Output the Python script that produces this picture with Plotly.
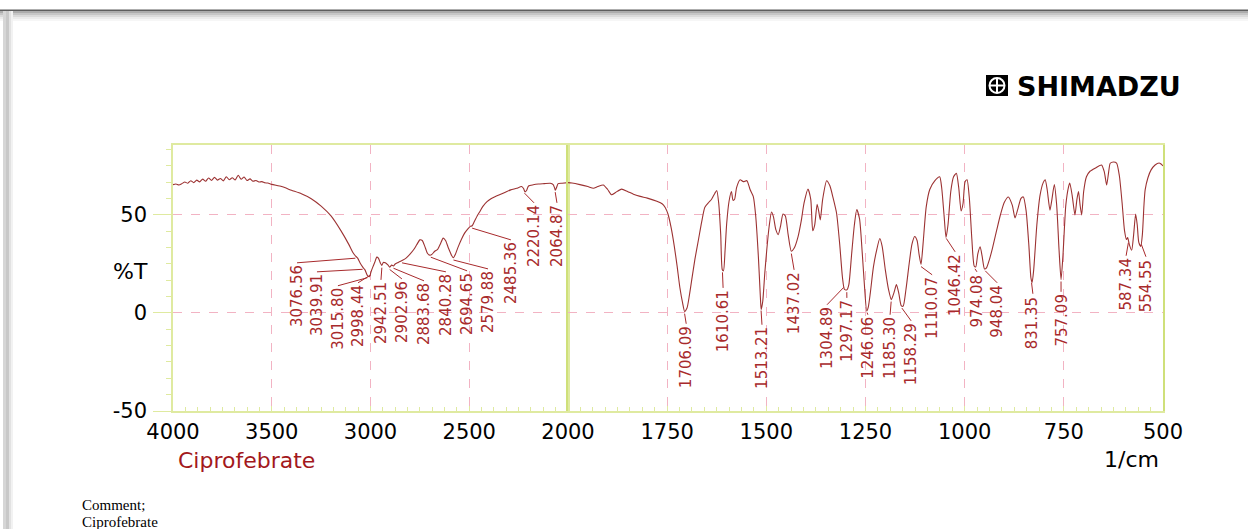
import numpy as np
import plotly.graph_objects as go

W, H = 1248, 529

# ---------------- data ----------------
wavenumber = [
    4000, 3985, 3970, 3955, 3940, 3925, 3910, 3895, 3880, 3865, 3850, 3835, 3820, 3805,
    3790, 3775, 3760, 3745, 3730, 3715, 3700, 3685, 3670, 3655, 3640, 3625, 3610, 3595,
    3580, 3565, 3550, 3535, 3520, 3500, 3450, 3400, 3350, 3300, 3250, 3200, 3150, 3110,
    3090, 3077, 3065, 3052, 3040, 3028, 3016, 3005, 2998, 2990, 2978, 2968, 2960, 2950,
    2943, 2935, 2925, 2912, 2903, 2893, 2884, 2875, 2860, 2840, 2820, 2800, 2780, 2765,
    2750, 2738, 2725, 2712, 2700, 2690, 2675, 2660, 2645, 2632, 2620, 2605, 2590, 2580,
    2570, 2555, 2540, 2525, 2510, 2495, 2485, 2475, 2460, 2446, 2430, 2410, 2390, 2370,
    2350, 2320, 2290, 2260, 2235, 2225, 2218, 2210, 2200, 2176, 2150, 2120, 2090, 2075,
    2068, 2064, 2058, 2050, 2030, 2000,
    1990, 1970, 1950, 1936, 1925, 1911, 1900, 1890, 1880, 1865, 1850, 1835, 1818, 1800,
    1776, 1762, 1755, 1748, 1740, 1732, 1725, 1718, 1711, 1706, 1700, 1694, 1688, 1680,
    1671, 1663, 1655, 1645, 1638, 1630, 1625, 1620, 1615, 1611, 1608, 1604, 1600, 1594,
    1588, 1584, 1580, 1575, 1566, 1558, 1549, 1541, 1533, 1527, 1520, 1515, 1513, 1509,
    1504, 1499, 1493, 1487, 1482, 1476, 1470, 1464, 1458, 1452, 1445, 1437, 1430, 1420,
    1412, 1405, 1395, 1388, 1383, 1378, 1372, 1368, 1364, 1358, 1348, 1340, 1332, 1323,
    1315, 1308, 1303, 1297, 1292, 1285, 1278, 1272, 1265, 1258, 1252, 1247, 1243, 1238,
    1230, 1222, 1214, 1208, 1200, 1192, 1185, 1178, 1172, 1166, 1160, 1155, 1148, 1140,
    1133, 1126, 1120, 1115, 1110, 1105, 1097, 1088, 1075, 1063, 1058, 1052, 1047, 1042,
    1035, 1028, 1021, 1015, 1009, 1004, 999, 994, 988, 982, 976, 972, 967, 961,
    956, 950, 945, 938, 930, 919, 910, 900, 890, 880, 873, 866, 858, 852,
    845, 838, 833, 830, 826, 818, 810, 802, 797, 792, 785, 780, 774, 768,
    762, 757, 752, 745, 738, 735, 729, 722, 717, 713, 709, 705, 700, 693,
    684, 670, 655, 648, 642, 637, 633, 625, 617, 610, 603, 597, 592, 589,
    585, 579, 574, 569, 565, 561, 556, 552, 548, 545, 538, 530, 520, 510,
    505, 500,
]
transmittance = [
    65.5, 65.8, 65.3, 66.0, 66.8, 66.2, 67.5, 66.5, 67.8, 66.9, 68.3, 67.2, 68.9, 67.6,
    69.2, 67.8, 68.6, 67.4, 69.5, 68.0, 69.0, 67.9, 70.3, 68.2, 69.4, 67.6, 68.4, 67.2,
    67.6, 66.8, 67.0, 66.4, 66.3, 65.6, 64.5, 62.6, 60.8, 58.3, 54.5, 49.5, 42.0, 35.0,
    31.0, 29.2, 28.0, 25.4, 23.5, 22.0, 19.2, 18.5, 20.8, 23.0, 26.0, 28.5, 28.0, 25.5,
    24.2, 25.8, 25.6, 24.5, 23.4, 24.4, 24.0, 25.0, 25.8, 26.8, 28.0, 30.0, 32.5, 35.0,
    37.3, 37.0, 34.0, 30.5, 29.5, 29.8, 31.5, 32.5, 35.5, 38.2, 37.0, 33.0, 29.5, 28.2,
    30.0, 34.0, 37.5, 40.5, 42.5, 44.2, 44.5, 46.5, 49.5, 51.8, 54.5, 56.8, 58.3, 59.3,
    60.2, 61.5, 62.8, 63.6, 64.5, 63.5, 61.8, 62.5, 64.8, 65.4, 65.8, 66.0, 66.2, 65.5,
    63.8, 62.6, 64.0, 66.0, 66.2, 66.5,
    66.3, 65.5, 64.5, 63.6, 64.5, 65.3, 63.0, 60.3, 61.5, 63.2, 62.0, 60.6, 59.5, 58.6,
    57.0, 55.6, 53.8, 50.5, 43.5, 34.0, 24.0, 13.0, 5.0, 0.8, 2.5, 9.0, 17.0, 27.5,
    37.5, 46.5, 54.0, 56.5, 58.0, 61.0, 62.5, 56.0, 40.0, 22.0, 21.5, 32.0, 45.5, 57.0,
    62.0, 57.5, 58.0, 64.0, 68.0, 67.0, 67.5, 63.0, 59.5, 50.0, 28.5, 8.0, 1.8, 6.0,
    20.0, 32.0, 44.0, 51.5, 49.0, 42.5, 40.0, 44.5, 50.5, 49.5, 40.0, 31.5, 33.0, 39.0,
    47.0, 56.0, 63.2, 58.0, 42.0, 45.0, 55.5, 52.0, 47.5, 58.0, 67.5, 65.0, 59.0, 51.0,
    35.0, 18.0, 12.0, 11.8, 14.5, 30.0, 45.0, 52.8, 48.0, 30.0, 12.0, 1.0, 3.0, 10.0,
    23.5, 32.0, 38.0, 34.0, 22.0, 12.0, 6.8, 10.5, 14.5, 10.0, 3.8, 3.5, 12.0, 25.0,
    35.0, 39.0, 37.0, 30.0, 24.8, 35.0, 54.0, 63.0, 67.5, 69.5, 64.0, 50.0, 38.5, 45.0,
    62.0, 69.5, 71.3, 64.0, 52.0, 56.0, 67.0, 68.0, 58.0, 38.0, 24.0, 23.5, 30.0, 33.8,
    29.0, 22.5, 23.0, 27.0, 33.0, 42.5, 50.0, 56.5, 59.2, 55.0, 48.5, 53.0, 58.5, 59.2,
    52.0, 34.0, 18.0, 15.5, 22.0, 45.0, 60.0, 66.5, 68.0, 63.0, 52.5, 58.0, 65.5, 55.0,
    32.0, 17.0, 30.0, 55.0, 64.5, 66.3, 60.0, 50.0, 58.0, 62.0, 55.0, 50.0, 62.0, 69.5,
    72.3, 74.0, 75.5, 72.0, 65.3, 72.0, 76.4, 77.0, 76.5, 70.0, 56.0, 42.0, 37.5, 38.5,
    35.0, 32.0, 40.0, 50.5, 45.0, 36.0, 34.0, 40.0, 55.0, 62.8, 69.0, 73.0, 75.5, 76.5,
    76.0, 75.0,
]

peak_labels = [
    "3076.56", "3039.91", "3015.80", "2998.44", "2942.51", "2902.96", "2883.68",
    "2840.28", "2694.65", "2579.88", "2485.36", "2220.14", "2064.87",
    "1706.09", "1610.61", "1513.21", "1437.02", "1304.89", "1297.17", "1246.06",
    "1185.30", "1158.29", "1110.07", "1046.42", "974.08", "948.04", "831.35",
    "757.09", "587.34", "554.55",
]

x_ticks_left = [4000, 3500, 3000, 2500, 2000]
x_ticks_right = [1750, 1500, 1250, 1000, 750, 500]
y_ticks = [-50, 0, 50]
y_tick_text = ["-50", "0", "50"]

# ---------------- layout helpers (label placement, not data) ----------------
label_pos_wn = [
    3372, 3271, 3165, 3063, 2947, 2841, 2729, 2618, 2511, 2405, 2289, 2172, 2056,
    1702, 1609, 1511, 1430, 1347, 1297, 1244, 1188, 1135, 1082, 1024, 969, 918,
    828, 757, 593, 543,
]
label_pos_t = [
    25.0, 20.4, 13.3, 14.8, 16.3, 16.8, 15.8, 20.4, 20.9, 21.9, 36.7, 55.6, 55.6,
    -6.1, 12.2, -6.6, 21.4, 3.6, 7.1, -1.5, -1.5, -4.6, 18.9, 30.6, 20.4, 14.8,
    9.2, 10.2, 28.6, 28.1,
]

wn = np.array(wavenumber, dtype=float)
tr = np.array(transmittance, dtype=float)
left = wn >= 2000
right = wn <= 2000

CURVE = "#9c3232"
LABEL = "#a82a2c"
FRAME = "#dfeaa0"
DIVIDER = "#cfe07a"
GRID = "#f2b3c3"

fig = go.Figure()
fig.add_trace(go.Scatter(x=wn[left], y=tr[left], mode="lines",
                         line=dict(color=CURVE, width=1.1, shape="spline", smoothing=0.6),
                         xaxis="x", yaxis="y", hoverinfo="skip", showlegend=False))
fig.add_trace(go.Scatter(x=wn[right], y=tr[right], mode="lines",
                         line=dict(color=CURVE, width=1.1, shape="spline", smoothing=0.6),
                         xaxis="x2", yaxis="y2", hoverinfo="skip", showlegend=False))

# leader lines from label to curve
order = np.argsort(wn)
lx_l, ly_l, lx_r, ly_r = [], [], [], []
annotations = []
for txt, lw, lt in zip(peak_labels, label_pos_wn, label_pos_t):
    pw = float(txt)
    pt = float(np.interp(pw, wn[order], tr[order]))
    on_left = pw > 2000
    xs = [lw, pw, None]
    ys = [lt + 0.6, pt - 1.2, None]
    if on_left:
        lx_l += xs; ly_l += ys
    else:
        lx_r += xs; ly_r += ys
    annotations.append(dict(
        x=lw, y=lt, xref="x" if on_left else "x2", yref="y" if on_left else "y2",
        text=txt, textangle=-90, showarrow=False, xanchor="center", yanchor="top",
        font=dict(family="DejaVu Sans", size=15, color=LABEL), borderpad=0,
    ))

fig.add_trace(go.Scatter(x=lx_l, y=ly_l, mode="lines", line=dict(color=LABEL, width=1),
                         xaxis="x", yaxis="y", hoverinfo="skip", showlegend=False))
fig.add_trace(go.Scatter(x=lx_r, y=ly_r, mode="lines", line=dict(color=LABEL, width=1),
                         xaxis="x2", yaxis="y2", hoverinfo="skip", showlegend=False))


def px(x):
    return x / W


def py(y):
    return 1 - y / H


tick_font = dict(family="DejaVu Sans", size=21, color="black")

common_x = dict(showline=True, mirror=True, linecolor=FRAME, linewidth=1.5,
                showgrid=True, gridcolor=GRID, griddash="dash", gridwidth=1,
                zeroline=False, ticks="inside", ticklen=5, tickcolor=FRAME,
                tickfont=tick_font, ticklabelstandoff=1, fixedrange=True,
                automargin=False)

fig.update_layout(
    width=W, height=H,
    margin=dict(l=0, r=0, t=0, b=0, autoexpand=False),
    paper_bgcolor="white", plot_bgcolor="white",
    showlegend=False,
    xaxis=dict(domain=[px(173), px(568)], range=[4000, 2000], tickvals=x_ticks_left,
               anchor="y",
               minor=dict(dtick=62.5, ticks="inside", ticklen=4, tickcolor=FRAME, showgrid=False),
               **common_x),
    xaxis2=dict(domain=[px(568), px(1163)], range=[2000, 500], tickvals=x_ticks_right,
                anchor="y2",
                minor=dict(dtick=31.25, ticks="inside", ticklen=4, tickcolor=FRAME, showgrid=False),
                **common_x),
    yaxis=dict(domain=[py(411), py(145)], range=[-50, 85.7], tickvals=y_ticks,
               ticktext=y_tick_text,
               anchor="x", showline=True, mirror=True, linecolor=FRAME, linewidth=1.5,
               showgrid=True, gridcolor=GRID, griddash="dash", zeroline=False,
               ticks="outside", ticklen=18, tickcolor=FRAME, tickfont=tick_font,
               ticklabelstandoff=2, automargin=False,
               minor=dict(dtick=50 / 6, ticks="outside", ticklen=5, tickcolor=FRAME, showgrid=False),
               fixedrange=True),
    yaxis2=dict(domain=[py(411), py(145)], range=[-50, 85.7], tickvals=y_ticks,
                anchor="x2", showline=True, mirror=True, linecolor=DIVIDER, linewidth=1.5,
                showgrid=True, gridcolor=GRID, griddash="dash", zeroline=False,
                showticklabels=False, ticks="", fixedrange=True, automargin=False),
)

annotations += [
    dict(x=px(150), y=py(271), xref="paper", yref="paper", text="%T", showarrow=False,
         xanchor="right", yanchor="middle", font=dict(family="DejaVu Sans", size=22, color="black")),
    dict(x=px(176), y=py(460), xref="paper", yref="paper", text="Ciprofebrate", showarrow=False,
         xanchor="left", yanchor="middle", font=dict(family="DejaVu Sans", size=22, color="#a3181c")),
    dict(x=px(1161), y=py(459), xref="paper", yref="paper", text="1/cm", showarrow=False,
         xanchor="right", yanchor="middle", font=dict(family="DejaVu Sans", size=22, color="black")),
    dict(x=px(1015), y=py(86), xref="paper", yref="paper", text="<b>SHIMADZU</b>", showarrow=False,
         xanchor="left", yanchor="middle", font=dict(family="DejaVu Sans", size=27, color="black")),
    dict(x=px(80), y=py(505), xref="paper", yref="paper", text="Comment;", showarrow=False,
         xanchor="left", yanchor="middle", font=dict(family="Liberation Serif", size=15, color="black")),
    dict(x=px(80), y=py(522), xref="paper", yref="paper", text="Ciprofebrate", showarrow=False,
         xanchor="left", yanchor="middle", font=dict(family="Liberation Serif", size=15, color="black")),
]
fig.update_layout(annotations=annotations)

shapes = []
# page frame decoration
shapes.append(dict(type="rect", xref="paper", yref="paper", x0=0, x1=1, y0=py(11), y1=py(9.5),
                   fillcolor="#5e5e5e", line=dict(width=0), layer="below"))
for (a, b, c) in [(11, 13, "#acacac"), (13, 15, "#c6c6c6"), (15, 17, "#dadada"),
                  (17, 19, "#ebebeb"), (19, 21, "#f6f6f6")]:
    shapes.append(dict(type="rect", xref="paper", yref="paper", x0=0, x1=1, y0=py(b), y1=py(a),
                       fillcolor=c, line=dict(width=0), layer="below"))
for (a, b, c) in [(3, 6, "#d6d6d6"), (6, 9, "#c8c8c8"), (9, 11, "#e2e2e2"), (11, 13, "#f2f2f2")]:
    shapes.append(dict(type="rect", xref="paper", yref="paper", x0=px(a), x1=px(b), y0=0, y1=py(11),
                       fillcolor=c, line=dict(width=0), layer="below"))
# SHIMADZU icon
shapes.append(dict(type="rect", xref="paper", yref="paper", x0=px(986), x1=px(1008), y0=py(96), y1=py(75),
                   fillcolor="black", line=dict(width=0)))
shapes.append(dict(type="circle", xref="paper", yref="paper", x0=px(989.5), x1=px(1004.5), y0=py(93), y1=py(78),
                   line=dict(color="white", width=2)))
shapes.append(dict(type="line", xref="paper", yref="paper", x0=px(997), x1=px(997), y0=py(93), y1=py(78),
                   line=dict(color="white", width=2)))
shapes.append(dict(type="line", xref="paper", yref="paper", x0=px(989.5), x1=px(1004.5), y0=py(85.5), y1=py(85.5),
                   line=dict(color="white", width=2)))
fig.update_layout(shapes=shapes)

fig.write_html("out.html", config={"displayModeBar": False},
               post_script="document.body.style.margin='0';document.body.style.overflow='hidden';")
